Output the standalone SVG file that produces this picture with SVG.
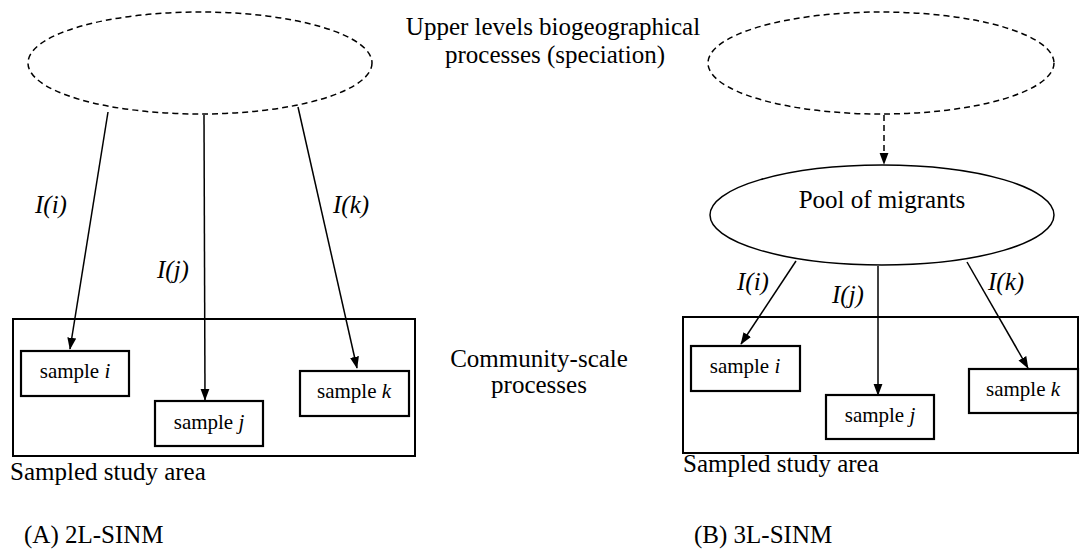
<svg xmlns="http://www.w3.org/2000/svg" width="1080" height="558" viewBox="0 0 1080 558">
<style>
text{font-family:'Liberation Serif','Times New Roman','DejaVu Serif',serif;fill:#000}
.t{font-size:25px}
.s{font-size:21px}
.c{text-anchor:middle}
.it{font-style:italic}
.dash{fill:none;stroke:#000;stroke-width:1.5;stroke-dasharray:6 4}
.box{fill:#fff;stroke:#000;stroke-width:2.2}
.area{fill:none;stroke:#000;stroke-width:2}
.ell{fill:#fff;stroke:#000;stroke-width:1.5}
.ln{fill:none;stroke:#000;stroke-width:1.5;marker-end:url(#ah)}
.dl{fill:none;stroke:#000;stroke-width:1.5;stroke-dasharray:6 4;marker-end:url(#ah)}
</style>
<defs>
<marker id="ah" markerWidth="12" markerHeight="16" refX="15" refY="6" orient="auto" markerUnits="userSpaceOnUse" viewBox="0 0 16 12">
<path d="M0,0 L16,6 L0,12 Z" fill="#000"/>
</marker>
</defs>
<rect width="1080" height="558" fill="#fff"/>
<g id="title" font-family="Liberation Serif, serif">
<text class="t c" x="553" y="35">Upper levels biogeographical</text>
<text class="t c" x="555" y="63">processes (speciation)</text>
</g>
<g id="community">
<text class="t c" x="539" y="367">Community-scale</text>
<text class="t c" x="539" y="393">processes</text>
</g>
<g id="A-upper"><ellipse class="dash" cx="200" cy="63" rx="172" ry="51"/></g>
<g id="A-area">
<rect class="area" x="13" y="319" width="402" height="137"/>
<text class="t" x="10" y="480">Sampled study area</text>
</g>
<g id="A-i"><rect class="box" x="21" y="351" width="108" height="45"/><text class="s c" x="75" y="378">sample <tspan class="it">i</tspan></text></g>
<g id="A-j"><rect class="box" x="155" y="401" width="108" height="45"/><text class="s c" x="209" y="429">sample <tspan class="it">j</tspan></text></g>
<g id="A-k"><rect class="box" x="300" y="371" width="109" height="45"/><text class="s c" x="354" y="398">sample <tspan class="it">k</tspan></text></g>
<g id="A-label"><text class="t" x="24" y="543">(A) 2L-SINM</text></g>
<g id="B-upper"><ellipse class="dash" cx="881" cy="63" rx="173" ry="51"/></g>
<g id="B-pool"><ellipse class="ell" cx="882" cy="215" rx="172" ry="50"/><text class="t c" x="882" y="208">Pool of migrants</text></g>
<g id="B-area">
<rect class="area" x="683" y="317" width="395" height="136"/>
<text class="t" x="683" y="472">Sampled study area</text>
</g>
<g id="B-i"><rect class="box" x="691" y="346" width="109" height="45"/><text class="s c" x="745" y="373">sample <tspan class="it">i</tspan></text></g>
<g id="B-j"><rect class="box" x="826" y="395" width="108" height="44"/><text class="s c" x="880" y="422">sample <tspan class="it">j</tspan></text></g>
<g id="B-k"><rect class="box" x="969" y="369" width="109" height="44"/><text class="s c" x="1023" y="396">sample <tspan class="it">k</tspan></text></g>
<g id="B-label"><text class="t" x="694" y="543">(B) 3L-SINM</text></g>
<g id="connectors">
<line class="ln" x1="108" y1="112" x2="70" y2="349"/>
<line class="ln" x1="204" y1="115" x2="205" y2="400"/>
<line class="ln" x1="298" y1="107" x2="357" y2="368"/>
<line class="dl" x1="884" y1="115" x2="884" y2="164"/>
<line class="ln" x1="796" y1="261" x2="741" y2="344"/>
<line class="ln" x1="878" y1="266" x2="878" y2="395"/>
<line class="ln" x1="967" y1="262" x2="1028" y2="368"/>
<text class="t it" x="35" y="213">I(i)</text>
<text class="t it" x="157" y="278">I(j)</text>
<text class="t it" x="333" y="213">I(k)</text>
<text class="t it" x="737" y="290">I(i)</text>
<text class="t it" x="832" y="303">I(j)</text>
<text class="t it" x="988" y="290">I(k)</text>
</g>
</svg>
